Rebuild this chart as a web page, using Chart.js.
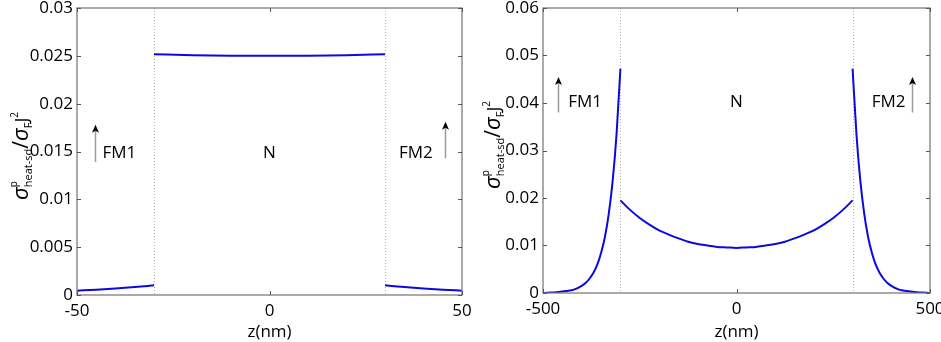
<!DOCTYPE html>
<html>
<head>
<meta charset="utf-8">
<script src="https://cdn.jsdelivr.net/npm/chart.js@4.4.1/dist/chart.umd.min.js"></script>
<style>
  html, body { margin: 0; padding: 0; background: #fff; }
  #wrap { position: relative; width: 941px; height: 342px; overflow: hidden; }
  canvas { position: absolute; top: 0; }
</style>
</head>
<body>
<div id="wrap">
  <canvas id="leftChart" width="485" height="342" style="left:0"></canvas>
  <canvas id="rightChart" width="471" height="342" style="left:470px"></canvas>
</div>
<script>
// ---- data ----
// left panel (z in nm, -50..50)
const leftFm1Z = [-50, -45, -40, -35, -30];
const leftFm1Val = [0.00045, 0.00056, 0.00069, 0.00084, 0.00101];
const leftNZ = [-30, -20, -10, 0, 10, 20, 30];
const leftNVal = [0.02516, 0.02507, 0.02502, 0.02500, 0.02502, 0.02507, 0.02516];
const leftFm2Z = [30, 35, 40, 45, 50];
const leftFm2Val = [0.00101, 0.00084, 0.00069, 0.00056, 0.00045];
const leftTickX = [-50, 0, 50];
const leftTickY = [0, 0.005, 0.01, 0.015, 0.02, 0.025, 0.03];
const leftBounds = [-30, 30];

// right panel (z in nm, -500..500)
const rightFm1Z = [-500, -480, -460, -440, -420, -400, -390, -380, -370, -360, -350, -340, -330, -320, -310, -300];
const rightFm1Val = [0.0000, 0.0001, 0.0002, 0.0004, 0.0007, 0.0015, 0.0021, 0.0030, 0.0042, 0.0059, 0.0084, 0.0118, 0.0167, 0.0236, 0.0334, 0.0472];
const rightNZ = [-300, -275, -250, -225, -200, -175, -150, -125, -100, -75, -50, -25, 0,
                 25, 50, 75, 100, 125, 150, 175, 200, 225, 250, 275, 300];
const rightNVal = [0.0195, 0.0175, 0.0158, 0.0144, 0.0132, 0.0123, 0.0115, 0.0108, 0.0103, 0.0100, 0.0097, 0.0096, 0.0095,
                   0.0096, 0.0097, 0.0100, 0.0103, 0.0108, 0.0115, 0.0123, 0.0132, 0.0144, 0.0158, 0.0175, 0.0195];
const rightFm2Z = [300, 310, 320, 330, 340, 350, 360, 370, 380, 390, 400, 420, 440, 460, 480, 500];
const rightFm2Val = [0.0472, 0.0334, 0.0236, 0.0167, 0.0118, 0.0084, 0.0059, 0.0042, 0.0030, 0.0021, 0.0015, 0.0007, 0.0004, 0.0002, 0.0001, 0.0000];
const rightTickX = [-500, 0, 500];
const rightTickY = [0, 0.01, 0.02, 0.03, 0.04, 0.05, 0.06];
const rightBounds = [-300, 300];

const FONT = "'Open Sans', 'Noto Sans', sans-serif";
const FONT_SIZE = 17;
const LINE_BLUE = "#0a0ae0";

function pts(xs, ys) {
  return xs.map((x, i) => ({ x: x, y: ys[i] }));
}

function fmtTick(v) {
  return v === 0 ? "0" : String(+v.toFixed(4));
}

// y label: sigma^p_heat-sd / sigma_F J^2, rotated
function drawYTitle(ctx, cx, cy) {
  const parts = [
    { t: "\u03C3", f: "italic 22px " + FONT, dy: 0 },
    { t: "p", f: "10px " + FONT, dy: -11, stack: true },
    { t: "heat-sd", f: "11px " + FONT, dy: 4 },
    { t: "/", f: "21px " + FONT, dy: 0 },
    { t: "\u03C3", f: "italic 22px " + FONT, dy: 0 },
    { t: "F", f: "11px " + FONT, dy: 4 },
    { t: "J", f: "18px " + FONT, dy: 0 },
    { t: "2", f: "10px " + FONT, dy: -10 }
  ];
  ctx.save();
  let total = 0;
  parts.forEach(p => {
    ctx.font = p.f;
    p.w = ctx.measureText(p.t).width;
  });
  for (let i = 0; i < parts.length; i++) {
    if (parts[i].stack) {
      total += Math.max(parts[i].w, parts[i + 1].w);
      i++;
    } else total += parts[i].w;
  }
  ctx.translate(cx, cy);
  ctx.rotate(-Math.PI / 2);
  ctx.fillStyle = "#000";
  ctx.textBaseline = "alphabetic";
  ctx.textAlign = "left";
  let x = -total / 2;
  const base = 7;
  for (let i = 0; i < parts.length; i++) {
    const p = parts[i];
    ctx.font = p.f;
    if (p.stack) {
      const q = parts[i + 1];
      ctx.fillText(p.t, x, base + p.dy);
      ctx.font = q.f;
      ctx.fillText(q.t, x, base + q.dy);
      x += Math.max(p.w, q.w);
      i++;
    } else {
      ctx.fillText(p.t, x, base + p.dy);
      x += p.w;
    }
  }
  ctx.restore();
}

function drawArrow(ctx, x, yTop, yBottom) {
  ctx.save();
  ctx.strokeStyle = "#9a9a9a";
  ctx.lineWidth = 1.5;
  ctx.beginPath();
  ctx.moveTo(x, yBottom);
  ctx.lineTo(x, yTop + 6);
  ctx.stroke();
  ctx.fillStyle = "#000";
  ctx.beginPath();
  ctx.moveTo(x, yTop);
  ctx.lineTo(x - 3.5, yTop + 8);
  ctx.lineTo(x, yTop + 6);
  ctx.lineTo(x + 3.5, yTop + 8);
  ctx.closePath();
  ctx.fill();
  ctx.restore();
}

// matlab-like frame: box, inward ticks, dotted interfaces, labels
const framePlugin = {
  id: "frame",
  beforeDatasetsDraw(chart) {
    const o = chart.options.plugins.frame;
    const { ctx, chartArea: a, scales } = chart;
    ctx.save();
    ctx.strokeStyle = "#b4b4b4";
    ctx.lineWidth = 1;
    ctx.setLineDash([1, 2]);
    o.bounds.forEach(b => {
      const px = Math.round(scales.x.getPixelForValue(b)) + 0.5;
      ctx.beginPath();
      ctx.moveTo(px, a.top);
      ctx.lineTo(px, a.bottom);
      ctx.stroke();
    });
    ctx.restore();
  },
  afterDatasetsDraw(chart) {
    const o = chart.options.plugins.frame;
    const { ctx, chartArea: a, scales } = chart;
    ctx.save();
    ctx.strokeStyle = "#7d7d7d";
    ctx.lineWidth = 1.3;
    ctx.strokeRect(a.left, a.top, a.right - a.left, a.bottom - a.top);
    ctx.strokeStyle = "#555";
    ctx.lineWidth = 1;
    const tl = 4;
    o.xTicks.forEach(v => {
      const px = Math.round(scales.x.getPixelForValue(v)) + 0.5;
      ctx.beginPath();
      ctx.moveTo(px, a.bottom); ctx.lineTo(px, a.bottom - tl);
      ctx.moveTo(px, a.top); ctx.lineTo(px, a.top + tl);
      ctx.stroke();
    });
    o.yTicks.forEach(v => {
      const py = Math.round(scales.y.getPixelForValue(v)) + 0.5;
      ctx.beginPath();
      ctx.moveTo(a.left, py); ctx.lineTo(a.left + tl, py);
      ctx.moveTo(a.right, py); ctx.lineTo(a.right - tl, py);
      ctx.stroke();
    });
    ctx.restore();

    // region labels and magnetisation arrows
    ctx.save();
    ctx.fillStyle = "#000";
    ctx.font = FONT_SIZE + "px " + FONT;
    ctx.textAlign = "center";
    ctx.textBaseline = "middle";
    o.labels.forEach(l => {
      ctx.fillText(l.text, scales.x.getPixelForValue(l.x), scales.y.getPixelForValue(l.y));
    });
    ctx.restore();
    o.arrows.forEach(ar => {
      drawArrow(ctx, Math.round(scales.x.getPixelForValue(ar.x)) + 0.5,
        scales.y.getPixelForValue(ar.y1), scales.y.getPixelForValue(ar.y0));
    });
    drawYTitle(ctx, o.titleX, o.titleY);
  }
};

function makeChart(id, cfg) {
  const ds = cfg.series.map(s => ({
    data: s,
    borderColor: LINE_BLUE,
    borderWidth: 2,
    pointRadius: 0,
    cubicInterpolationMode: "monotone",
    fill: false
  }));
  return new Chart(document.getElementById(id), {
    type: "line",
    data: { datasets: ds },
    options: {
      responsive: false,
      animation: false,
      devicePixelRatio: 1,
      layout: { padding: cfg.padding },
      plugins: {
        legend: { display: false },
        tooltip: { enabled: false },
        frame: {
          bounds: cfg.bounds,
          xTicks: cfg.xTicks,
          yTicks: cfg.yTicks,
          labels: cfg.labels,
          arrows: cfg.arrows,
          titleX: cfg.titleX,
          titleY: cfg.titleY
        }
      },
      scales: {
        x: {
          type: "linear",
          min: cfg.xTicks[0],
          max: cfg.xTicks[cfg.xTicks.length - 1],
          grid: { display: false, drawTicks: false },
          border: { display: false },
          afterBuildTicks: s => { s.ticks = cfg.xTicks.map(v => ({ value: v })); },
          afterFit: s => {
            s.height = cfg.xHeight;
            s.paddingLeft = 0;
            s.paddingRight = 0;
          },
          ticks: {
            color: "#000",
            font: { family: FONT, size: FONT_SIZE },
            padding: 6,
            maxRotation: 0,
            autoSkip: false,
            callback: v => fmtTick(v)
          },
          title: {
            display: true,
            text: "z(nm)",
            color: "#000",
            font: { family: FONT, size: FONT_SIZE },
            padding: { top: 0, bottom: 0 }
          }
        },
        y: {
          type: "linear",
          min: cfg.yTicks[0],
          max: cfg.yTicks[cfg.yTicks.length - 1],
          grid: { display: false, drawTicks: false },
          border: { display: false },
          afterBuildTicks: s => { s.ticks = cfg.yTicks.map(v => ({ value: v })); },
          afterFit: s => {
            s.width = cfg.yWidth;
            s.paddingTop = 0;
            s.paddingBottom = 0;
          },
          ticks: {
            color: "#000",
            font: { family: FONT, size: FONT_SIZE },
            padding: 4,
            autoSkip: false,
            callback: v => fmtTick(v)
          }
        }
      }
    },
    plugins: [framePlugin]
  });
}

makeChart("leftChart", {
  series: [pts(leftFm1Z, leftFm1Val), pts(leftNZ, leftNVal), pts(leftFm2Z, leftFm2Val)],
  bounds: leftBounds,
  xTicks: leftTickX,
  yTicks: leftTickY,
  padding: { left: 0, right: 23, top: 8, bottom: 0 },
  yWidth: 77,
  xHeight: 47,
  labels: [
    { text: "FM1", x: -39, y: 0.0148 },
    { text: "N", x: 0, y: 0.0148 },
    { text: "FM2", x: 38, y: 0.0148 }
  ],
  arrows: [
    { x: -45.3, y0: 0.0139, y1: 0.0178 },
    { x: 45.5, y0: 0.0143, y1: 0.0181 }
  ],
  titleX: 21,
  titleY: 156
});

makeChart("rightChart", {
  series: [pts(rightFm1Z, rightFm1Val), pts(rightNZ, rightNVal), pts(rightFm2Z, rightFm2Val)],
  bounds: rightBounds,
  xTicks: rightTickX,
  yTicks: rightTickY,
  padding: { left: 0, right: 11, top: 8, bottom: 0 },
  yWidth: 73,
  xHeight: 49,
  labels: [
    { text: "FM1", x: -391, y: 0.0402 },
    { text: "N", x: 0, y: 0.0402 },
    { text: "FM2", x: 393, y: 0.0402 }
  ],
  arrows: [
    { x: -461, y0: 0.0380, y1: 0.0455 },
    { x: 453, y0: 0.0380, y1: 0.0455 }
  ],
  titleX: 23,
  titleY: 145
});
</script>
</body>
</html>
